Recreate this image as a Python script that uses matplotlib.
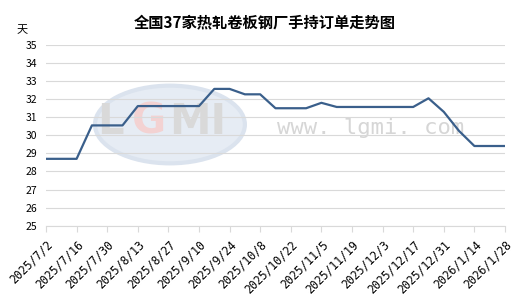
import matplotlib
matplotlib.use("Agg")
import matplotlib.pyplot as plt
from matplotlib.patches import Ellipse

plt.rcParams['font.family'] = ['Noto Sans CJK SC', 'DejaVu Sans']

dates = ["2025/7/2", "2025/7/9", "2025/7/16", "2025/7/23", "2025/7/30", "2025/8/6",
         "2025/8/13", "2025/8/20", "2025/8/27", "2025/9/3", "2025/9/10", "2025/9/17",
         "2025/9/24", "2025/10/1", "2025/10/8", "2025/10/15", "2025/10/22", "2025/10/29",
         "2025/11/5", "2025/11/12", "2025/11/19", "2025/11/26", "2025/12/3", "2025/12/10",
         "2025/12/17", "2025/12/24", "2025/12/31", "2026/1/7", "2026/1/14", "2026/1/21",
         "2026/1/28"]
values = [28.7, 28.7, 28.7, 30.55, 30.55, 30.55, 31.62, 31.62, 31.62, 31.62, 31.62,
          32.57, 32.57, 32.27, 32.27, 31.5, 31.5, 31.5, 31.8, 31.57, 31.57, 31.57,
          31.57, 31.57, 31.57, 32.05, 31.3, 30.24, 29.41, 29.41, 29.41]
yticks = list(range(25, 36))
title = "全国37家热轧卷板钢厂手持订单走势图"

fig = plt.figure(figsize=(5.3, 3.04), dpi=100)
ax = fig.add_axes([0.0868, 0.2576, 0.866, 0.5944])

x = list(range(len(values)))

# watermark
ax.add_patch(Ellipse((8.1, 30.6), 9.8, 4.3, facecolor="#e6ecf4", edgecolor="#dbe3ee",
                     linewidth=3, zorder=0))
ax.text(4.2, 30.75, "L", fontsize=30, fontweight="bold", color="#d9d9d9",
        ha="center", va="center", zorder=0.5, family="DejaVu Sans")
ax.text(6.7, 30.75, "G", fontsize=30, fontweight="bold", color="#f3d2d2",
        ha="center", va="center", zorder=0.5, family="DejaVu Sans")
ax.text(9.9, 30.75, "MI", fontsize=30, fontweight="bold", color="#d9d9d9",
        ha="center", va="center", zorder=0.5, family="DejaVu Sans")
ax.text(21.2, 30.4, "www. lgmi. com", fontsize=16, color="#d6d6d6",
        ha="center", va="center", zorder=0.5, family="DejaVu Sans Mono")

ax.plot(x, values, color="#3a5f8b", linewidth=1.6, zorder=3)

ax.set_xlim(0, len(values) - 1)
ax.set_ylim(25, 35)
ax.set_yticks(yticks)
ax.set_yticklabels([str(v) for v in yticks], fontsize=7.5)
ax.set_xticks(x[::2])
ax.set_xticklabels(dates[::2], rotation=45, ha="right", rotation_mode="anchor",
                   fontsize=8.3, family="DejaVu Sans Mono")

ax.grid(axis="y", color="#d9d9d9", linewidth=0.8)
ax.set_axisbelow(True)
for s in ["left", "right", "top"]:
    ax.spines[s].set_visible(False)
ax.spines["bottom"].set_color("#d9d9d9")
ax.tick_params(axis="y", length=0, pad=6.5)
ax.tick_params(axis="x", length=4, color="#d9d9d9", pad=5)

fig.text(0.5, 0.928, title, ha="center", va="center", fontsize=11, fontweight="bold")
fig.text(0.042, 0.90, "天", ha="center", va="center", fontsize=8)

fig.savefig("out.png", dpi=100)
